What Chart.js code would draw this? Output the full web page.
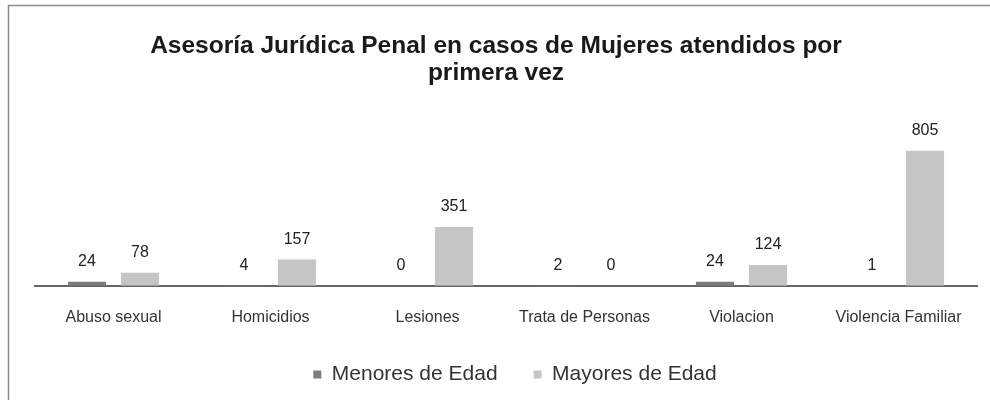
<!DOCTYPE html>
<html>
<head>
<meta charset="utf-8">
<script src="https://cdn.jsdelivr.net/npm/chart.js@4/dist/chart.umd.min.js"></script>
<style>
  body { margin: 0; background: #fff; }
  #wrap { width: 990px; height: 400px; position: relative; }
</style>
</head>
<body>
<div id="wrap"><canvas id="barChart" width="990" height="400"></canvas></div>
<script>
// casos atendidos por primera vez
let categorias = ['Abuso sexual', 'Homicidios', 'Lesiones', 'Trata de Personas', 'Violacion', 'Violencia Familiar'];
let menoresEdad = [24, 4, 0, 2, 24, 1];
let mayoresEdad = [78, 157, 351, 0, 124, 805];
let tituloLineas = ['Asesoría Jurídica Penal en casos de Mujeres atendidos por', 'primera vez'];

const fuente = '"Liberation Sans", Arial, sans-serif';

// marco gris arriba y a la izquierda
const marcoPlugin = {
    id: 'marco',
    beforeDraw(chart) {
        const ctx = chart.ctx;
        ctx.save();
        ctx.fillStyle = '#fff';
        ctx.fillRect(0, 0, chart.width, chart.height);
        ctx.strokeStyle = '#8c8c8c';
        ctx.lineWidth = 1.5;
        ctx.beginPath();
        ctx.moveTo(8.5, chart.height);
        ctx.lineTo(8.5, 5.5);
        ctx.lineTo(chart.width, 5.5);
        ctx.stroke();
        ctx.restore();
    }
};

// titulo un poco a la izquierda, leyenda un poco a la derecha
const centradoPlugin = {
    id: 'centrado',
    afterLayout(chart) {
        if (chart.titleBlock) {
            chart.titleBlock.left -= 20;
        }
        if (chart.legend) {
            chart.legend.left += 9;
            chart.legend.right += 9;
        }
    }
};

// numeros encima de cada barra
const etiquetasPlugin = {
    id: 'etiquetas',
    afterDatasetsDraw(chart) {
        const ctx = chart.ctx;
        ctx.save();
        ctx.font = '16px ' + fuente;
        ctx.fillStyle = '#222';
        ctx.textAlign = 'center';
        ctx.textBaseline = 'middle';
        chart.data.datasets.forEach(function (ds, i) {
            chart.getDatasetMeta(i).data.forEach(function (bar, j) {
                ctx.fillText(String(ds.data[j]), bar.x, bar.y - 20);
            });
        });
        ctx.restore();
    }
};

const ctx = document.getElementById('barChart').getContext('2d');
new Chart(ctx, {
    type: 'bar',
    data: {
        labels: categorias,
        datasets: [{
                label: 'Menores de Edad',
                data: menoresEdad,
                backgroundColor: '#7d7d7d',
                categoryPercentage: 0.675,
                barPercentage: 0.72
            }, {
                label: 'Mayores de Edad',
                data: mayoresEdad,
                backgroundColor: '#c3c6c4',
                categoryPercentage: 0.675,
                barPercentage: 0.72
            }]
    },
    options: {
        responsive: false,
        animation: false,
        layout: {padding: {left: 35, right: 13, top: 0, bottom: 5}},
        scales: {
            x: {
                grid: {display: false, drawTicks: false},
                border: {display: true, color: '#666', width: 2},
                ticks: {
                    color: '#333',
                    padding: 22,
                    font: {family: fuente, size: 16}
                },
                // eje mas bajo: las etiquetas quedan cerca de la leyenda
                afterFit(scale) {
                    scale.height -= 21;
                }
            },
            y: {
                display: false,
                min: 0,
                max: 1000
            }
        },
        plugins: {
            title: {
                display: true,
                text: tituloLineas,
                color: '#1a1a1a',
                font: {family: fuente, size: 24.5, weight: 'bold', lineHeight: 1.125},
                padding: {top: 32, bottom: 31}
            },
            legend: {
                position: 'bottom',
                labels: {
                    color: '#333',
                    boxWidth: 8,
                    boxHeight: 8,
                    padding: 36,
                    font: {family: fuente, size: 21}
                }
            },
            tooltip: {enabled: false}
        }
    },
    plugins: [marcoPlugin, centradoPlugin, etiquetasPlugin]
});
</script>
</body>
</html>
